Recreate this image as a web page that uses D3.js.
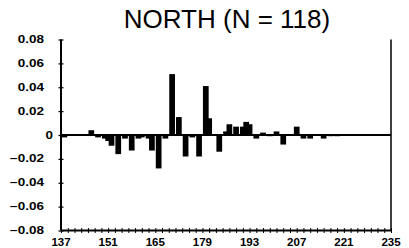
<!DOCTYPE html>
<html><head><meta charset="utf-8">
<script src="https://cdn.jsdelivr.net/npm/d3@7"></script>
<style>body{margin:0;background:#fff}svg{display:block}</style>
</head><body>
<svg id="c" width="409" height="248"></svg>
<script>
const days   = [138,146,148,150,151,152,154,156,158,160,161,163,164,166,168,170,172,174,176,178,180,181,184,186,187,189,191,192,193,195,197,199,201,203,207,209,211,215,217,219];
const values = [-0.002,0.004,-0.002,-0.003,-0.005,-0.009,-0.016,-0.003,-0.013,-0.003,-0.002,-0.003,-0.013,-0.028,-0.003,0.051,0.015,-0.018,-0.002,-0.018,0.041,0.014,-0.014,0.003,0.009,0.007,0.007,0.011,0.009,-0.003,0.002,-0.001,0.003,-0.008,0.007,-0.003,-0.003,-0.003,-0.001,-0.001];
const xTickLabels = [137,151,165,179,193,207,221,235];
const yTickValues = [0.08,0.06,0.04,0.02,0,-0.02,-0.04,-0.06,-0.08];
const title = "NORTH (N = 118)";

const svg = d3.select("#c");
const L = 61, R = 391, T = 39.5, B = 230.5;
const x = d3.scaleLinear().domain([137,235]).range([L,R]);
const y = d3.scaleLinear().domain([-0.08,0.08]).range([B,T]);

// title
svg.append("text").attr("x",227).attr("y",28).attr("text-anchor","middle")
  .attr("font-family","Liberation Sans, Arial, sans-serif").attr("font-size",26)
  .text(title);

// bars
const bw = x(138.7)-x(137);
svg.append("g").selectAll("rect").data(days).join("rect")
  .attr("x",(d)=>x(d)-bw/2)
  .attr("width",bw)
  .attr("y",(d,i)=>y(Math.max(0,values[i])))
  .attr("height",(d,i)=>Math.abs(y(values[i])-y(0)))
  .attr("fill","#000");

// zero line
svg.append("line").attr("x1",L).attr("x2",R).attr("y1",y(0)).attr("y2",y(0))
  .attr("stroke","#000").attr("stroke-width",2);
// right border
svg.append("line").attr("x1",R).attr("x2",R).attr("y1",T).attr("y2",B)
  .attr("stroke","#000").attr("stroke-width",1.5);

// left axis
const ya = svg.append("g").attr("transform",`translate(${L},0)`)
  .call(d3.axisLeft(y).tickValues(yTickValues).tickSize(2).tickFormat(""));
ya.select(".domain").attr("stroke-width",2).attr("d",`M0,${T}V${B}`);
ya.selectAll(".tick line").attr("x1",-2.5).attr("x2",2.5).attr("stroke-width",1.2);

// y labels (stretched bold, as in the scan)
svg.append("g").selectAll("text").data(yTickValues).join("text")
  .attr("transform",d=>`translate(${d===0?53:44},${y(d)+3.6}) scale(1.35,1)`)
  .attr("text-anchor","end")
  .attr("font-family","Liberation Sans, Arial, sans-serif").attr("font-weight","bold")
  .attr("font-size",10)
  .text(d=>d===0?"0":d3.format(".2f")(d));

// bottom axis
const xa = svg.append("g").attr("transform",`translate(0,${B})`)
  .call(d3.axisBottom(x).tickValues(d3.range(137,236,2)).tickSize(2).tickFormat(""));
xa.select(".domain").attr("stroke-width",2).attr("d",`M${L},0H${R}`);
xa.selectAll(".tick line").attr("y1",-2.5).attr("y2",2.5).attr("stroke-width",1);

svg.append("g").selectAll("text").data(xTickLabels).join("text")
  .attr("x",d=>x(d)).attr("y",B+15)
  .attr("text-anchor","middle")
  .attr("font-family","Liberation Sans, Arial, sans-serif").attr("font-weight","bold")
  .attr("font-size",11.5)
  .text(d=>d);
</script>
</body></html>
